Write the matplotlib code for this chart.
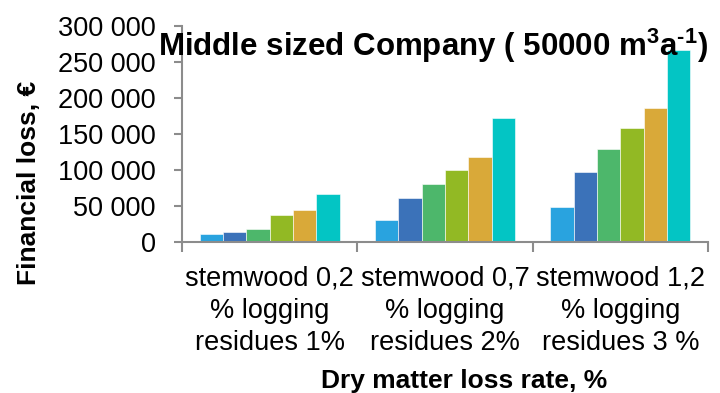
import matplotlib
matplotlib.use("Agg")
import matplotlib.pyplot as plt
import numpy as np

plt.rcParams['font.family'] = ['Liberation Sans', 'DejaVu Sans']

categories = ["stemwood 0,2\n% logging\nresidues 1%",
              "stemwood 0,7\n% logging\nresidues 2%",
              "stemwood 1,2\n% logging\nresidues 3 %"]

# financial loss (€) for six scenarios in each dry-matter loss class
series_values = [
    [11000, 30500, 49500],
    [14500, 61000, 98000],
    [18500, 81000, 129000],
    [38000, 100000, 158500],
    [45000, 118500, 187000],
    [67000, 173000, 267500],
]
series_colors = ["#29A3DF", "#3B72B9", "#4DB76B", "#92B924", "#D9A939", "#03C5C4"]

y_ticks = [0, 50000, 100000, 150000, 200000, 250000, 300000]
y_tick_labels = ["0", "50 000", "100 000", "150 000", "200 000", "250 000", "300 000"]

fig = plt.figure(figsize=(7.2, 3.93), dpi=100)
ax = fig.add_axes([0.2528, 0.3835, 0.7305, 0.5496])

x = np.arange(len(categories))
n = len(series_values)
group_w = 0.8
bw = group_w / n
for i, (vals, col) in enumerate(zip(series_values, series_colors)):
    offs = -group_w / 2 + bw * (i + 0.5)
    ax.bar(x + offs, vals, width=bw, color=col, edgecolor="white", linewidth=0.4, zorder=2)

ax.set_xlim(-0.5, len(categories) - 0.5)
ax.set_ylim(0, 300000)

spine_col = "#8C8C8C"
for s in ["top", "right"]:
    ax.spines[s].set_visible(False)
for s in ["left", "bottom"]:
    ax.spines[s].set_color(spine_col)
    ax.spines[s].set_linewidth(1.5)

ax.set_yticks(y_ticks)
ax.set_yticklabels(y_tick_labels, fontsize=19.5)
ax.tick_params(axis="y", direction="out", length=6, width=1.5, color=spine_col, pad=13)

# boundary ticks between categories, labels centred on groups
ax.set_xticks(np.arange(-0.5, len(categories)), minor=False)
ax.set_xticklabels([])
ax.tick_params(axis="x", which="major", direction="out", length=7, width=1.5, color=spine_col)
ax.set_xticks(x, minor=True)
ax.set_xticklabels(categories, minor=True, fontsize=19.5, linespacing=1.3)
ax.tick_params(axis="x", which="minor", length=0, pad=17)

fig.text(0.601, 0.857,
         "Middle sized Company ( 50000 m$^{\\mathregular{3}}$a$^{\\mathregular{\u20101}}$)",
         ha="center", va="baseline", fontsize=22.5, fontweight="bold")
fig.text(0.040, 0.534, "Financial loss, €", rotation=90, ha="center", va="center",
         fontsize=19, fontweight="bold")
fig.text(0.645, 0.0127, "Dry matter loss rate, %", ha="center", va="baseline",
         fontsize=19, fontweight="bold")

fig.savefig("out.png", dpi=100)
